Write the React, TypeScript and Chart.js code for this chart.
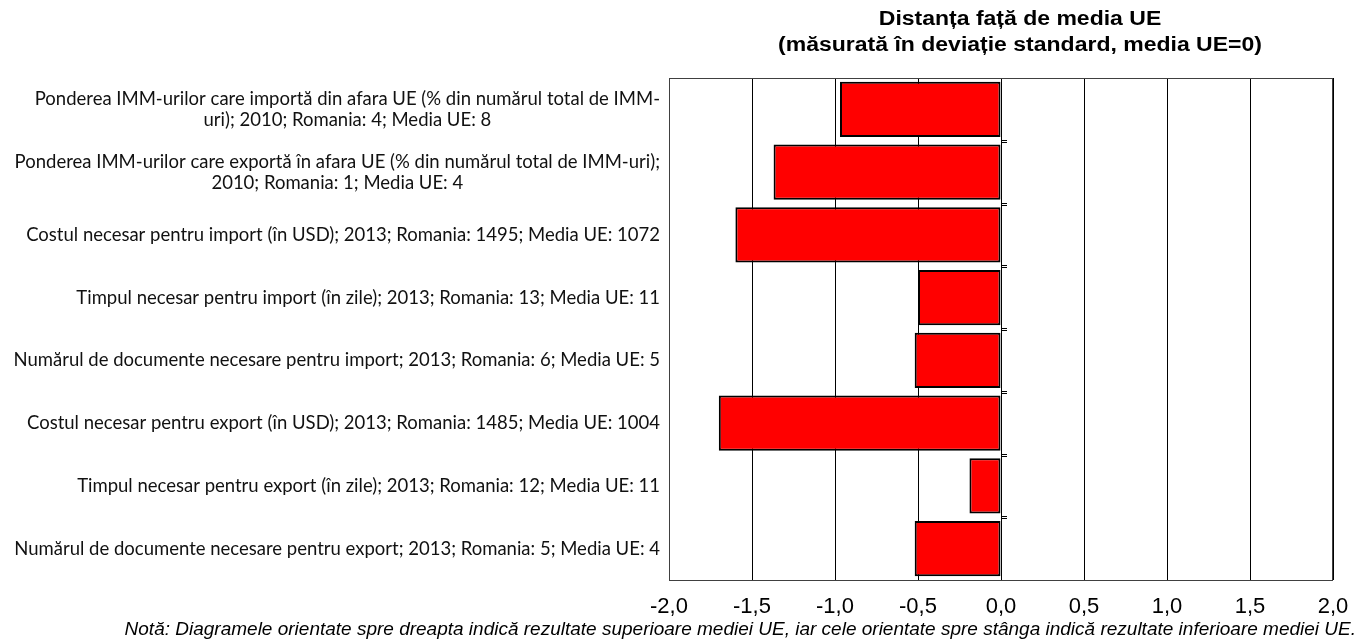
import React, { useEffect, useRef } from "react";
import { Chart, registerables } from "chart.js";

Chart.register(...registerables);

const categories: string[][] = [
  ["Ponderea IMM-urilor care importă din afara UE (% din numărul total de IMM-", "uri); 2010; Romania: 4; Media UE: 8"],
  ["Ponderea IMM-urilor care exportă în afara UE (% din numărul total de IMM-uri);", "2010; Romania: 1; Media UE: 4"],
  ["Costul necesar pentru import (în USD); 2013; Romania: 1495; Media UE: 1072"],
  ["Timpul necesar pentru import (în zile); 2013; Romania: 13; Media UE: 11"],
  ["Numărul de documente necesare pentru import; 2013; Romania: 6; Media UE: 5"],
  ["Costul necesar pentru export (în USD); 2013; Romania: 1485; Media UE: 1004"],
  ["Timpul necesar pentru export (în zile); 2013; Romania: 12; Media UE: 11"],
  ["Numărul de documente necesare pentru export; 2013; Romania: 5; Media UE: 4"],
];

const distanceValues: number[] = [-0.97, -1.37, -1.6, -0.5, -0.52, -1.7, -0.19, -0.52];

const titleLines: string[] = ["Distanța față de media UE", "(măsurată în deviație standard, media UE=0)"];
const noteText = "Notă: Diagramele orientate spre dreapta indică rezultate superioare mediei UE, iar cele orientate spre stânga indică rezultate inferioare mediei UE.";

const xMin = -2;
const xMax = 2;
const xStep = 0.5;

const decorPlugin = {
  id: "decor",
  beforeDatasetsDraw(chart: any) {
    const { ctx, chartArea } = chart;
    ctx.save();
    ctx.strokeStyle = "#404040";
    ctx.lineWidth = 1;
    ctx.strokeRect(chartArea.left + 0.5, chartArea.top + 0.5, chartArea.right - chartArea.left - 1, chartArea.bottom - chartArea.top);
    ctx.restore();
  },
  afterDraw(chart: any) {
    const { ctx, chartArea, scales } = chart;
    const y = scales.y;
    const x = scales.x;
    ctx.save();
    // category labels
    ctx.font = "18.5px Lato";
    ctx.fillStyle = "#111";
    ctx.textAlign = "center";
    ctx.textBaseline = "middle";
    const right = chartArea.left - 9;
    const lh = 21;
    categories.forEach((lines, i) => {
      const cy = y.getPixelForValue(i);
      let maxW = 0;
      lines.forEach((l) => (maxW = Math.max(maxW, ctx.measureText(l).width)));
      const cx = right - maxW / 2;
      const start = cy - ((lines.length - 1) * lh) / 2;
      lines.forEach((l, k) => ctx.fillText(l, cx, start + k * lh));
    });
    // small ticks on zero axis between categories
    const x0 = x.getPixelForValue(0);
    ctx.strokeStyle = "#000";
    ctx.lineWidth = 1;
    for (let i = 0; i < categories.length - 1; i++) {
      const yy = Math.round((y.getPixelForValue(i) + y.getPixelForValue(i + 1)) / 2) + 0.5;
      ctx.beginPath();
      ctx.moveTo(x0, yy - 1);
      ctx.lineTo(x0 + 6, yy - 1);
      ctx.moveTo(x0, yy + 1);
      ctx.lineTo(x0 + 6, yy + 1);
      ctx.stroke();
    }
    // title
    ctx.fillStyle = "#000";
    ctx.font = "bold 20px 'Liberation Sans', Arial, sans-serif";
    ctx.textAlign = "center";
    const sx = 1.15;
    ctx.save();
    ctx.translate(1020, 0);
    ctx.scale(sx, 1);
    ctx.fillText(titleLines[0], 0, 19);
    ctx.fillText(titleLines[1], 0, 45);
    ctx.restore();
    // note
    ctx.font = "italic 19px 'Liberation Sans', Arial, sans-serif";
    ctx.textAlign = "right";
    ctx.fillText(noteText, 1356, 630);
    ctx.restore();
  },
};

export default function App() {
  const ref = useRef<HTMLCanvasElement>(null);
  useEffect(() => {
    if (!ref.current) return;
    const chart = new Chart(ref.current, {
      type: "bar",
      data: {
        labels: categories.map((c) => c.join(" ")),
        datasets: [
          {
            data: distanceValues,
            backgroundColor: "#FF0000",
            borderColor: "#000000",
            borderWidth: 2,
            borderSkipped: false,
            barPercentage: 0.88,
            categoryPercentage: 1,
          },
        ],
      },
      options: {
        indexAxis: "y",
        animation: false,
        responsive: false,
        maintainAspectRatio: false,
        layout: { padding: { top: 78, right: 32, left: 0, bottom: 0 } },
        plugins: { legend: { display: false }, title: { display: false }, tooltip: { enabled: false } },
        scales: {
          x: {
            type: "linear",
            min: xMin,
            max: xMax,
            ticks: {
              stepSize: xStep,
              padding: 14,
              color: "#000",
              font: { family: "'Liberation Sans', Arial, sans-serif", size: 22 },
              callback: (v: any) => Number(v).toFixed(1).replace(".", ","),
            },
            grid: { color: "#000", lineWidth: 1, drawTicks: false },
            border: { display: false },
            afterFit: (s: any) => {
              s.height = 61;
            },
          },
          y: {
            type: "category",
            ticks: { display: false },
            grid: { display: false, drawTicks: false },
            border: { display: false },
            afterFit: (s: any) => {
              s.width = 669;
            },
          },
        },
      },
      plugins: [decorPlugin],
    });
    return () => chart.destroy();
  }, []);
  return (
    <div style={{ position: "fixed", left: 0, top: 0, width: 1365, height: 641, background: "#fff" }}>
      <canvas ref={ref} width={1365} height={641} />
    </div>
  );
}
